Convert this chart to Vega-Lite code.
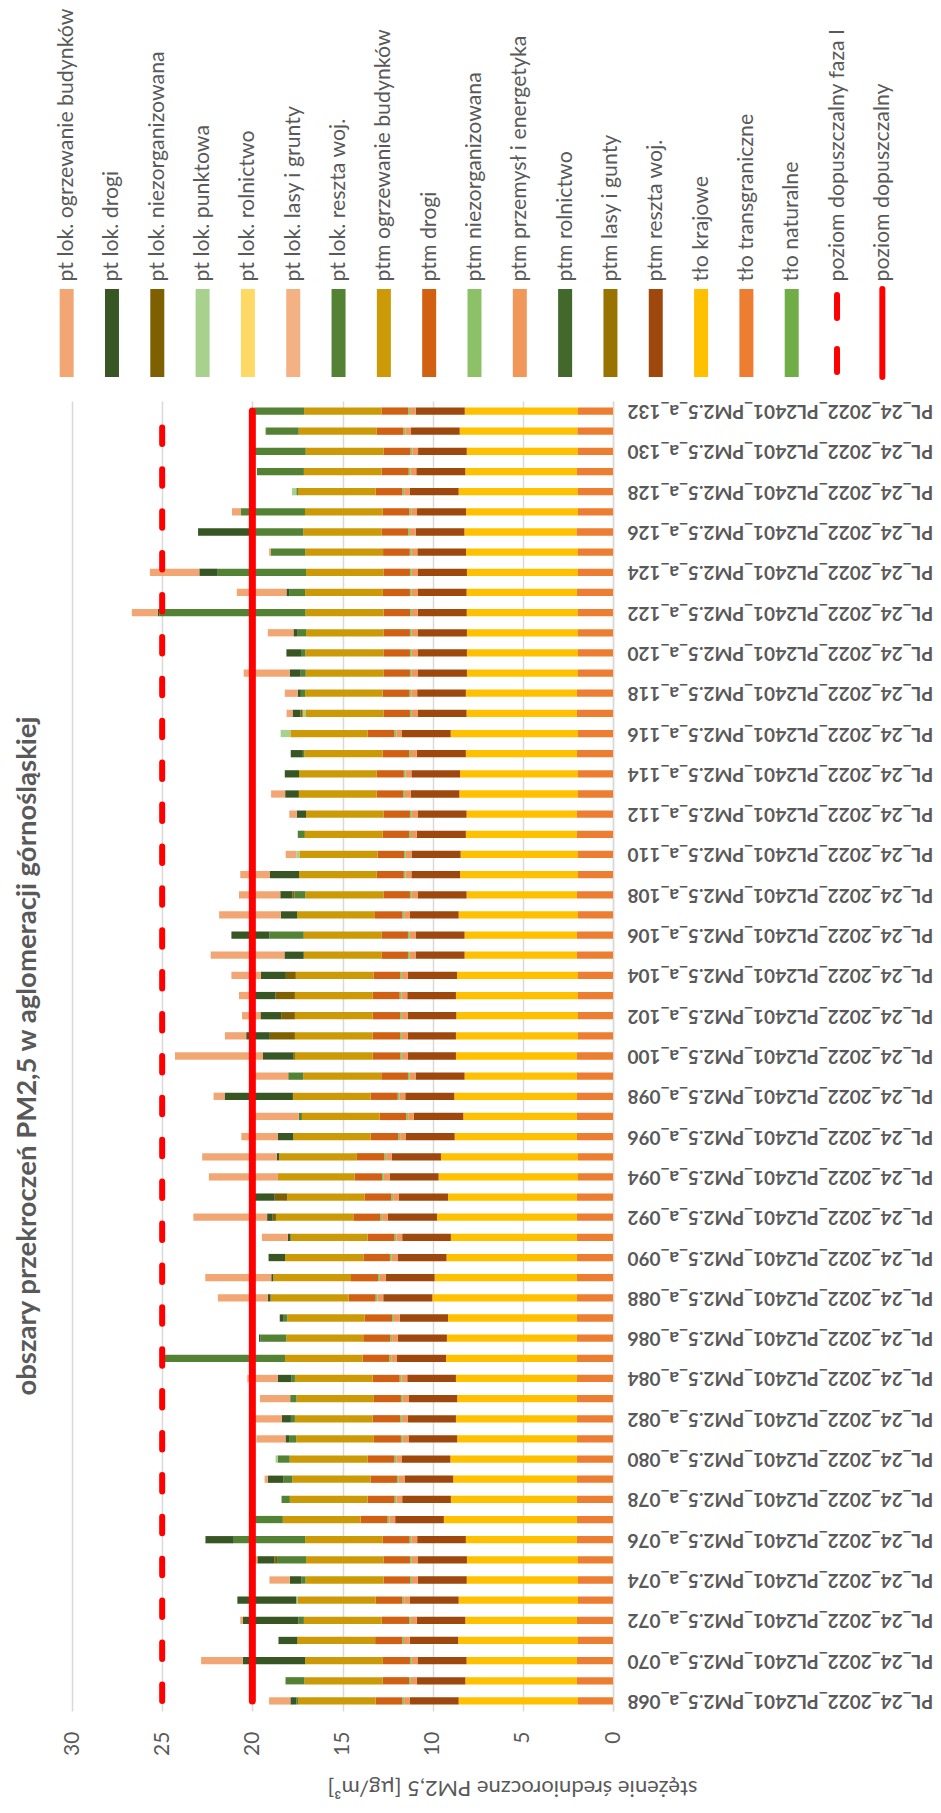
{
  "$schema": "https://vega.github.io/schema/vega-lite/v6.json",
  "padding": {"left": 13, "top": 7, "right": 0, "bottom": 5},
  "background": "white",
  "config": {"font": "Lato", "view": {"stroke": null}},
  "datasets": {
    "legenda": [
      {"key": "pt_ogrz", "nazwa": "pt lok. ogrzewanie budynków", "kol": 0},
      {"key": "pt_drogi", "nazwa": "pt lok. drogi", "kol": 1},
      {"key": "pt_niez", "nazwa": "pt lok. niezorganizowana", "kol": 2},
      {"key": "pt_punkt", "nazwa": "pt lok. punktowa", "kol": 3},
      {"key": "pt_roln", "nazwa": "pt lok. rolnictwo", "kol": 4},
      {"key": "pt_lasy", "nazwa": "pt lok. lasy i grunty", "kol": 5},
      {"key": "pt_reszta", "nazwa": "pt lok. reszta woj.", "kol": 6},
      {"key": "ptm_ogrz", "nazwa": "ptm ogrzewanie budynków", "kol": 7},
      {"key": "ptm_drogi", "nazwa": "ptm drogi", "kol": 8},
      {"key": "ptm_niez", "nazwa": "ptm niezorganizowana", "kol": 9},
      {"key": "ptm_przem", "nazwa": "ptm przemysł i energetyka", "kol": 10},
      {"key": "ptm_roln", "nazwa": "ptm rolnictwo", "kol": 11},
      {"key": "ptm_lasy", "nazwa": "ptm lasy i gunty", "kol": 12},
      {"key": "ptm_reszta", "nazwa": "ptm reszta woj.", "kol": 13},
      {"key": "tlo_kraj", "nazwa": "tło krajowe", "kol": 14},
      {"key": "tlo_trans", "nazwa": "tło transgraniczne", "kol": 15},
      {"key": "tlo_nat", "nazwa": "tło naturalne", "kol": 16},
      {"key": "poz1", "nazwa": "poziom dopuszczalny faza I", "kol": 17},
      {"key": "poz", "nazwa": "poziom dopuszczalny", "kol": 18}
    ],
    "obszary": [
      {"kat": "PL_24_2022_PL2401_PM2.5_a_132", "tlo_trans": 1.94, "tlo_kraj": 6.28, "ptm_reszta": 2.72, "ptm_przem": 0.32, "ptm_niez": 0.1, "ptm_drogi": 1.48, "ptm_ogrz": 4.29, "pt_reszta": 2.77, "poz": 20, "poz1": 25},
      {"kat": "PL_24_2022_PL2401_PM2.5_a_131", "tlo_trans": 1.98, "tlo_kraj": 6.52, "ptm_reszta": 2.70, "ptm_przem": 0.32, "ptm_niez": 0.1, "ptm_drogi": 1.48, "ptm_ogrz": 4.33, "pt_reszta": 1.81, "pt_punkt": 0.05, "poz": 20, "poz1": 25},
      {"kat": "PL_24_2022_PL2401_PM2.5_a_130", "tlo_trans": 1.94, "tlo_kraj": 6.17, "ptm_reszta": 2.70, "ptm_przem": 0.32, "ptm_niez": 0.1, "ptm_drogi": 1.48, "ptm_ogrz": 4.33, "pt_reszta": 2.83, "poz": 20, "poz1": 25},
      {"kat": "PL_24_2022_PL2401_PM2.5_a_129", "tlo_trans": 2.00, "tlo_kraj": 6.19, "ptm_reszta": 2.72, "ptm_przem": 0.32, "ptm_niez": 0.1, "ptm_drogi": 1.50, "ptm_ogrz": 4.31, "pt_reszta": 2.61, "poz": 20, "poz1": 25},
      {"kat": "PL_24_2022_PL2401_PM2.5_a_128", "tlo_trans": 1.94, "tlo_kraj": 6.62, "ptm_reszta": 2.70, "ptm_przem": 0.32, "ptm_niez": 0.1, "ptm_drogi": 1.48, "ptm_ogrz": 4.31, "pt_reszta": 0.09, "pt_punkt": 0.24, "poz": 20, "poz1": 25},
      {"kat": "PL_24_2022_PL2401_PM2.5_a_127", "tlo_trans": 1.94, "tlo_kraj": 6.21, "ptm_reszta": 2.72, "ptm_przem": 0.32, "ptm_niez": 0.1, "ptm_drogi": 1.48, "ptm_ogrz": 4.31, "pt_reszta": 3.55, "pt_ogrz": 0.50, "poz": 20, "poz1": 25},
      {"kat": "PL_24_2022_PL2401_PM2.5_a_126", "tlo_trans": 2.03, "tlo_kraj": 6.21, "ptm_reszta": 2.70, "ptm_przem": 0.32, "ptm_niez": 0.1, "ptm_drogi": 1.48, "ptm_ogrz": 4.33, "pt_reszta": 2.66, "pt_drogi": 3.18, "poz": 20, "poz1": 25},
      {"kat": "PL_24_2022_PL2401_PM2.5_a_125", "tlo_trans": 1.94, "tlo_kraj": 6.21, "ptm_reszta": 2.70, "ptm_przem": 0.32, "ptm_niez": 0.1, "ptm_drogi": 1.48, "ptm_ogrz": 4.31, "pt_reszta": 1.92, "pt_ogrz": 0.09, "poz": 20, "poz1": 25},
      {"kat": "PL_24_2022_PL2401_PM2.5_a_124", "tlo_trans": 1.94, "tlo_kraj": 6.16, "ptm_reszta": 2.74, "ptm_przem": 0.32, "ptm_niez": 0.1, "ptm_drogi": 1.47, "ptm_ogrz": 4.29, "pt_reszta": 4.90, "pt_drogi": 1.02, "pt_ogrz": 2.74, "poz": 20, "poz1": 25},
      {"kat": "PL_24_2022_PL2401_PM2.5_a_123", "tlo_trans": 2.00, "tlo_kraj": 6.12, "ptm_reszta": 2.72, "ptm_przem": 0.32, "ptm_niez": 0.1, "ptm_drogi": 1.50, "ptm_ogrz": 4.31, "pt_reszta": 0.89, "pt_drogi": 0.15, "pt_ogrz": 2.75, "poz": 20, "poz1": 25},
      {"kat": "PL_24_2022_PL2401_PM2.5_a_122", "tlo_trans": 1.94, "tlo_kraj": 6.17, "ptm_reszta": 2.72, "ptm_przem": 0.32, "ptm_niez": 0.1, "ptm_drogi": 1.47, "ptm_ogrz": 4.33, "pt_reszta": 8.10, "pt_drogi": 0.09, "pt_ogrz": 1.44, "poz": 20, "poz1": 25},
      {"kat": "PL_24_2022_PL2401_PM2.5_a_121", "tlo_trans": 1.94, "tlo_kraj": 6.16, "ptm_reszta": 2.74, "ptm_przem": 0.32, "ptm_niez": 0.1, "ptm_drogi": 1.47, "ptm_ogrz": 4.29, "pt_reszta": 0.50, "pt_drogi": 0.20, "pt_ogrz": 1.42, "poz": 20, "poz1": 25},
      {"kat": "PL_24_2022_PL2401_PM2.5_a_120", "tlo_trans": 1.94, "tlo_kraj": 6.16, "ptm_reszta": 2.74, "ptm_przem": 0.32, "ptm_niez": 0.1, "ptm_drogi": 1.47, "ptm_ogrz": 4.33, "pt_reszta": 0.24, "pt_drogi": 0.81, "poz": 20, "poz1": 25},
      {"kat": "PL_24_2022_PL2401_PM2.5_a_119", "tlo_trans": 1.94, "tlo_kraj": 6.16, "ptm_reszta": 2.74, "ptm_przem": 0.32, "ptm_niez": 0.1, "ptm_drogi": 1.47, "ptm_ogrz": 4.31, "pt_reszta": 0.28, "pt_drogi": 0.61, "pt_ogrz": 2.55, "poz": 20, "poz1": 25},
      {"kat": "PL_24_2022_PL2401_PM2.5_a_118", "tlo_trans": 2.00, "tlo_kraj": 6.16, "ptm_reszta": 2.70, "ptm_przem": 0.32, "ptm_niez": 0.1, "ptm_drogi": 1.50, "ptm_ogrz": 4.29, "pt_reszta": 0.24, "pt_drogi": 0.17, "pt_ogrz": 0.72, "poz": 20, "poz1": 25},
      {"kat": "PL_24_2022_PL2401_PM2.5_a_117", "tlo_trans": 2.00, "tlo_kraj": 6.12, "ptm_reszta": 2.72, "ptm_przem": 0.32, "ptm_niez": 0.1, "ptm_drogi": 1.47, "ptm_ogrz": 4.33, "pt_punkt": 0.15, "pt_niez": 0.13, "pt_drogi": 0.43, "pt_ogrz": 0.33, "poz": 20, "poz1": 25},
      {"kat": "PL_24_2022_PL2401_PM2.5_a_116", "tlo_trans": 1.94, "tlo_kraj": 7.06, "ptm_reszta": 2.70, "ptm_przem": 0.32, "ptm_niez": 0.1, "ptm_drogi": 1.48, "ptm_ogrz": 4.29, "pt_punkt": 0.54, "poz": 20, "poz1": 25},
      {"kat": "PL_24_2022_PL2401_PM2.5_a_115", "tlo_trans": 2.00, "tlo_kraj": 6.16, "ptm_reszta": 2.72, "ptm_przem": 0.32, "ptm_niez": 0.1, "ptm_drogi": 1.48, "ptm_ogrz": 4.33, "pt_reszta": 0.09, "pt_drogi": 0.67, "poz": 20, "poz1": 25},
      {"kat": "PL_24_2022_PL2401_PM2.5_a_114", "tlo_trans": 1.94, "tlo_kraj": 6.54, "ptm_reszta": 2.70, "ptm_przem": 0.32, "ptm_niez": 0.1, "ptm_drogi": 1.50, "ptm_ogrz": 4.31, "pt_drogi": 0.79, "poz": 20, "poz1": 25},
      {"kat": "PL_24_2022_PL2401_PM2.5_a_113", "tlo_trans": 1.94, "tlo_kraj": 6.58, "ptm_reszta": 2.70, "ptm_przem": 0.32, "ptm_niez": 0.1, "ptm_drogi": 1.47, "ptm_ogrz": 4.31, "pt_drogi": 0.76, "pt_ogrz": 0.78, "poz": 20, "poz1": 25},
      {"kat": "PL_24_2022_PL2401_PM2.5_a_112", "tlo_trans": 2.00, "tlo_kraj": 6.12, "ptm_reszta": 2.72, "ptm_przem": 0.32, "ptm_niez": 0.1, "ptm_drogi": 1.47, "ptm_ogrz": 4.29, "pt_drogi": 0.52, "pt_ogrz": 0.41, "poz": 20, "poz1": 25},
      {"kat": "PL_24_2022_PL2401_PM2.5_a_111", "tlo_trans": 2.00, "tlo_kraj": 6.16, "ptm_reszta": 2.72, "ptm_przem": 0.32, "ptm_niez": 0.1, "ptm_drogi": 1.48, "ptm_ogrz": 4.31, "pt_reszta": 0.39, "poz": 20, "poz1": 25},
      {"kat": "PL_24_2022_PL2401_PM2.5_a_110", "tlo_trans": 1.94, "tlo_kraj": 6.51, "ptm_reszta": 2.72, "ptm_przem": 0.32, "ptm_niez": 0.1, "ptm_drogi": 1.47, "ptm_ogrz": 4.33, "pt_punkt": 0.17, "pt_ogrz": 0.59, "poz": 20, "poz1": 25},
      {"kat": "PL_24_2022_PL2401_PM2.5_a_109", "tlo_trans": 1.94, "tlo_kraj": 6.54, "ptm_reszta": 2.70, "ptm_przem": 0.32, "ptm_niez": 0.1, "ptm_drogi": 1.50, "ptm_ogrz": 4.31, "pt_drogi": 1.61, "pt_ogrz": 1.65, "poz": 20, "poz1": 25},
      {"kat": "PL_24_2022_PL2401_PM2.5_a_108", "tlo_trans": 2.00, "tlo_kraj": 6.12, "ptm_reszta": 2.72, "ptm_przem": 0.32, "ptm_niez": 0.1, "ptm_drogi": 1.47, "ptm_ogrz": 4.33, "pt_reszta": 0.61, "pt_niez": 0.11, "pt_drogi": 0.67, "pt_ogrz": 2.29, "poz": 20, "poz1": 25},
      {"kat": "PL_24_2022_PL2401_PM2.5_a_107", "tlo_trans": 1.94, "tlo_kraj": 6.62, "ptm_reszta": 2.70, "ptm_przem": 0.32, "ptm_niez": 0.1, "ptm_drogi": 1.52, "ptm_ogrz": 4.31, "pt_drogi": 0.91, "pt_ogrz": 3.42, "poz": 20, "poz1": 25},
      {"kat": "PL_24_2022_PL2401_PM2.5_a_106", "tlo_trans": 2.00, "tlo_kraj": 6.23, "ptm_reszta": 2.72, "ptm_przem": 0.32, "ptm_niez": 0.1, "ptm_drogi": 1.47, "ptm_ogrz": 4.31, "pt_reszta": 1.90, "pt_drogi": 2.11, "poz": 20, "poz1": 25},
      {"kat": "PL_24_2022_PL2401_PM2.5_a_105", "tlo_trans": 2.00, "tlo_kraj": 6.23, "ptm_reszta": 2.72, "ptm_przem": 0.32, "ptm_niez": 0.1, "ptm_drogi": 1.47, "ptm_ogrz": 4.31, "pt_drogi": 1.07, "pt_ogrz": 4.09, "poz": 20, "poz1": 25},
      {"kat": "PL_24_2022_PL2401_PM2.5_a_104", "tlo_trans": 1.94, "tlo_kraj": 6.71, "ptm_reszta": 2.74, "ptm_przem": 0.32, "ptm_niez": 0.1, "ptm_drogi": 1.47, "ptm_ogrz": 4.31, "pt_niez": 0.55, "pt_drogi": 1.39, "pt_ogrz": 1.63, "poz": 20, "poz1": 25},
      {"kat": "PL_24_2022_PL2401_PM2.5_a_103", "tlo_trans": 1.94, "tlo_kraj": 6.77, "ptm_reszta": 2.70, "ptm_przem": 0.32, "ptm_niez": 0.1, "ptm_drogi": 1.50, "ptm_ogrz": 4.31, "pt_niez": 1.07, "pt_drogi": 1.16, "pt_ogrz": 0.87, "poz": 20, "poz1": 25},
      {"kat": "PL_24_2022_PL2401_PM2.5_a_102", "tlo_trans": 1.94, "tlo_kraj": 6.75, "ptm_reszta": 2.70, "ptm_przem": 0.32, "ptm_niez": 0.1, "ptm_drogi": 1.52, "ptm_ogrz": 4.31, "pt_niez": 0.76, "pt_drogi": 1.15, "pt_ogrz": 1.02, "poz": 20, "poz1": 25},
      {"kat": "PL_24_2022_PL2401_PM2.5_a_101", "tlo_trans": 1.94, "tlo_kraj": 6.77, "ptm_reszta": 2.68, "ptm_przem": 0.32, "ptm_niez": 0.1, "ptm_drogi": 1.52, "ptm_ogrz": 4.31, "pt_niez": 1.39, "pt_drogi": 1.31, "pt_ogrz": 1.18, "poz": 20, "poz1": 25},
      {"kat": "PL_24_2022_PL2401_PM2.5_a_100", "tlo_trans": 2.00, "tlo_kraj": 6.71, "ptm_reszta": 2.68, "ptm_przem": 0.32, "ptm_niez": 0.1, "ptm_drogi": 1.52, "ptm_ogrz": 4.31, "pt_niez": 0.09, "pt_drogi": 1.68, "pt_ogrz": 4.88, "poz": 20, "poz1": 25},
      {"kat": "PL_24_2022_PL2401_PM2.5_a_099", "tlo_trans": 2.00, "tlo_kraj": 6.23, "ptm_reszta": 2.72, "ptm_przem": 0.32, "ptm_niez": 0.1, "ptm_drogi": 1.48, "ptm_ogrz": 4.33, "pt_reszta": 0.83, "pt_ogrz": 1.96, "poz": 20, "poz1": 25},
      {"kat": "PL_24_2022_PL2401_PM2.5_a_098", "tlo_trans": 2.00, "tlo_kraj": 6.80, "ptm_reszta": 2.72, "ptm_przem": 0.32, "ptm_niez": 0.1, "ptm_drogi": 1.50, "ptm_ogrz": 4.31, "pt_drogi": 3.79, "pt_ogrz": 0.61, "poz": 20, "poz1": 25},
      {"kat": "PL_24_2022_PL2401_PM2.5_a_097", "tlo_trans": 2.00, "tlo_kraj": 6.30, "ptm_reszta": 2.74, "ptm_przem": 0.32, "ptm_niez": 0.1, "ptm_drogi": 1.48, "ptm_ogrz": 4.31, "pt_reszta": 0.17, "pt_ogrz": 2.55, "poz": 20, "poz1": 25},
      {"kat": "PL_24_2022_PL2401_PM2.5_a_096", "tlo_trans": 2.00, "tlo_kraj": 6.78, "ptm_reszta": 2.70, "ptm_przem": 0.32, "ptm_niez": 0.1, "ptm_drogi": 1.54, "ptm_ogrz": 4.29, "pt_drogi": 0.85, "pt_ogrz": 2.03, "poz": 20, "poz1": 25},
      {"kat": "PL_24_2022_PL2401_PM2.5_a_095", "tlo_trans": 1.94, "tlo_kraj": 7.60, "ptm_reszta": 2.72, "ptm_przem": 0.32, "ptm_niez": 0.1, "ptm_drogi": 1.52, "ptm_ogrz": 4.31, "pt_drogi": 0.13, "pt_ogrz": 4.14, "poz": 20, "poz1": 25},
      {"kat": "PL_24_2022_PL2401_PM2.5_a_094", "tlo_trans": 1.94, "tlo_kraj": 7.73, "ptm_reszta": 2.72, "ptm_przem": 0.32, "ptm_niez": 0.1, "ptm_drogi": 1.52, "ptm_ogrz": 4.25, "pt_ogrz": 3.83, "poz": 20, "poz1": 25},
      {"kat": "PL_24_2022_PL2401_PM2.5_a_093", "tlo_trans": 2.00, "tlo_kraj": 7.15, "ptm_reszta": 2.72, "ptm_przem": 0.32, "ptm_niez": 0.1, "ptm_drogi": 1.48, "ptm_ogrz": 4.29, "pt_niez": 0.70, "pt_drogi": 1.11, "poz": 20, "poz1": 25},
      {"kat": "PL_24_2022_PL2401_PM2.5_a_092", "tlo_trans": 2.00, "tlo_kraj": 7.76, "ptm_reszta": 2.72, "ptm_przem": 0.32, "ptm_niez": 0.1, "ptm_drogi": 1.50, "ptm_ogrz": 4.29, "pt_niez": 0.18, "pt_drogi": 0.31, "pt_ogrz": 4.09, "poz": 20, "poz1": 25},
      {"kat": "PL_24_2022_PL2401_PM2.5_a_091", "tlo_trans": 2.00, "tlo_kraj": 6.99, "ptm_reszta": 2.70, "ptm_przem": 0.32, "ptm_niez": 0.1, "ptm_drogi": 1.50, "ptm_ogrz": 4.27, "pt_drogi": 0.15, "pt_ogrz": 1.44, "poz": 20, "poz1": 25},
      {"kat": "PL_24_2022_PL2401_PM2.5_a_090", "tlo_trans": 2.00, "tlo_kraj": 7.23, "ptm_reszta": 2.72, "ptm_przem": 0.32, "ptm_niez": 0.1, "ptm_drogi": 1.47, "ptm_ogrz": 4.34, "pt_drogi": 0.92, "poz": 20, "poz1": 25},
      {"kat": "PL_24_2022_PL2401_PM2.5_a_089", "tlo_trans": 2.00, "tlo_kraj": 7.89, "ptm_reszta": 2.72, "ptm_przem": 0.32, "ptm_niez": 0.1, "ptm_drogi": 1.50, "ptm_ogrz": 4.31, "pt_drogi": 0.11, "pt_ogrz": 3.66, "poz": 20, "poz1": 25},
      {"kat": "PL_24_2022_PL2401_PM2.5_a_088", "tlo_trans": 2.00, "tlo_kraj": 8.02, "ptm_reszta": 2.72, "ptm_przem": 0.32, "ptm_niez": 0.1, "ptm_drogi": 1.50, "ptm_ogrz": 4.33, "pt_drogi": 0.15, "pt_ogrz": 2.77, "poz": 20, "poz1": 25},
      {"kat": "PL_24_2022_PL2401_PM2.5_a_087", "tlo_trans": 2.00, "tlo_kraj": 7.15, "ptm_reszta": 2.68, "ptm_przem": 0.32, "ptm_niez": 0.1, "ptm_drogi": 1.52, "ptm_ogrz": 4.29, "pt_reszta": 0.20, "pt_drogi": 0.22, "poz": 20, "poz1": 25},
      {"kat": "PL_24_2022_PL2401_PM2.5_a_086", "tlo_trans": 2.00, "tlo_kraj": 7.21, "ptm_reszta": 2.72, "ptm_przem": 0.32, "ptm_niez": 0.1, "ptm_drogi": 1.50, "ptm_ogrz": 4.27, "pt_reszta": 1.44, "pt_drogi": 0.07, "poz": 20, "poz1": 25},
      {"kat": "PL_24_2022_PL2401_PM2.5_a_085", "tlo_trans": 2.00, "tlo_kraj": 7.26, "ptm_reszta": 2.72, "ptm_przem": 0.32, "ptm_niez": 0.1, "ptm_drogi": 1.48, "ptm_ogrz": 4.31, "pt_reszta": 6.67, "poz": 20, "poz1": 25},
      {"kat": "PL_24_2022_PL2401_PM2.5_a_084", "tlo_trans": 2.00, "tlo_kraj": 6.71, "ptm_reszta": 2.70, "ptm_przem": 0.32, "ptm_niez": 0.1, "ptm_drogi": 1.50, "ptm_ogrz": 4.31, "pt_reszta": 0.20, "pt_drogi": 0.74, "pt_ogrz": 1.70, "poz": 20, "poz1": 25},
      {"kat": "PL_24_2022_PL2401_PM2.5_a_083", "tlo_trans": 2.00, "tlo_kraj": 6.64, "ptm_reszta": 2.70, "ptm_przem": 0.32, "ptm_niez": 0.1, "ptm_drogi": 1.50, "ptm_ogrz": 4.29, "pt_reszta": 0.35, "pt_ogrz": 1.68, "poz": 20, "poz1": 25},
      {"kat": "PL_24_2022_PL2401_PM2.5_a_082", "tlo_trans": 2.00, "tlo_kraj": 6.71, "ptm_reszta": 2.68, "ptm_przem": 0.32, "ptm_niez": 0.1, "ptm_drogi": 1.52, "ptm_ogrz": 4.31, "pt_reszta": 0.22, "pt_drogi": 0.50, "pt_ogrz": 1.52, "poz": 20, "poz1": 25},
      {"kat": "PL_24_2022_PL2401_PM2.5_a_081", "tlo_trans": 2.00, "tlo_kraj": 6.64, "ptm_reszta": 2.70, "ptm_przem": 0.32, "ptm_niez": 0.1, "ptm_drogi": 1.50, "ptm_ogrz": 4.31, "pt_reszta": 0.39, "pt_drogi": 0.20, "pt_ogrz": 1.61, "poz": 20, "poz1": 25},
      {"kat": "PL_24_2022_PL2401_PM2.5_a_080", "tlo_trans": 2.00, "tlo_kraj": 7.02, "ptm_reszta": 2.68, "ptm_przem": 0.32, "ptm_niez": 0.1, "ptm_drogi": 1.48, "ptm_ogrz": 4.33, "pt_reszta": 0.65, "pt_punkt": 0.13, "poz": 20, "poz1": 25},
      {"kat": "PL_24_2022_PL2401_PM2.5_a_079", "tlo_trans": 2.00, "tlo_kraj": 6.86, "ptm_reszta": 2.70, "ptm_przem": 0.32, "ptm_niez": 0.1, "ptm_drogi": 1.47, "ptm_ogrz": 4.34, "pt_reszta": 0.50, "pt_drogi": 0.85, "pt_ogrz": 0.18, "poz": 20, "poz1": 25},
      {"kat": "PL_24_2022_PL2401_PM2.5_a_078", "tlo_trans": 2.00, "tlo_kraj": 6.99, "ptm_reszta": 2.70, "ptm_przem": 0.32, "ptm_niez": 0.1, "ptm_drogi": 1.50, "ptm_ogrz": 4.31, "pt_reszta": 0.46, "poz": 20, "poz1": 25},
      {"kat": "PL_24_2022_PL2401_PM2.5_a_077", "tlo_trans": 2.00, "tlo_kraj": 7.38, "ptm_reszta": 2.70, "ptm_przem": 0.32, "ptm_niez": 0.1, "ptm_drogi": 1.50, "ptm_ogrz": 4.31, "pt_reszta": 1.57, "poz": 20, "poz1": 25},
      {"kat": "PL_24_2022_PL2401_PM2.5_a_076", "tlo_trans": 2.00, "tlo_kraj": 6.16, "ptm_reszta": 2.70, "ptm_przem": 0.32, "ptm_niez": 0.1, "ptm_drogi": 1.50, "ptm_ogrz": 4.29, "pt_reszta": 3.96, "pt_drogi": 1.57, "poz": 20, "poz1": 25},
      {"kat": "PL_24_2022_PL2401_PM2.5_a_075", "tlo_trans": 1.94, "tlo_kraj": 6.16, "ptm_reszta": 2.74, "ptm_przem": 0.32, "ptm_niez": 0.1, "ptm_drogi": 1.47, "ptm_ogrz": 4.29, "pt_reszta": 1.61, "pt_niez": 0.15, "pt_drogi": 0.94, "pt_ogrz": 0.13, "poz": 20, "poz1": 25},
      {"kat": "PL_24_2022_PL2401_PM2.5_a_074", "tlo_trans": 1.94, "tlo_kraj": 6.17, "ptm_reszta": 2.72, "ptm_przem": 0.32, "ptm_niez": 0.1, "ptm_drogi": 1.47, "ptm_ogrz": 4.33, "pt_reszta": 0.24, "pt_drogi": 0.63, "pt_ogrz": 1.13, "poz": 20, "poz1": 25},
      {"kat": "PL_24_2022_PL2401_PM2.5_a_073", "tlo_trans": 1.94, "tlo_kraj": 6.62, "ptm_reszta": 2.70, "ptm_przem": 0.32, "ptm_niez": 0.1, "ptm_drogi": 1.48, "ptm_ogrz": 4.31, "pt_punkt": 0.09, "pt_drogi": 3.27, "poz": 20, "poz1": 25},
      {"kat": "PL_24_2022_PL2401_PM2.5_a_072", "tlo_trans": 2.00, "tlo_kraj": 6.19, "ptm_reszta": 2.70, "ptm_przem": 0.32, "ptm_niez": 0.1, "ptm_drogi": 1.52, "ptm_ogrz": 4.31, "pt_reszta": 0.31, "pt_drogi": 3.07, "pt_ogrz": 0.15, "poz": 20, "poz1": 25},
      {"kat": "PL_24_2022_PL2401_PM2.5_a_071", "tlo_trans": 1.94, "tlo_kraj": 6.65, "ptm_reszta": 2.68, "ptm_przem": 0.32, "ptm_niez": 0.1, "ptm_drogi": 1.50, "ptm_ogrz": 4.31, "pt_drogi": 1.05, "poz": 20, "poz1": 25},
      {"kat": "PL_24_2022_PL2401_PM2.5_a_070", "tlo_trans": 2.00, "tlo_kraj": 6.12, "ptm_reszta": 2.72, "ptm_przem": 0.32, "ptm_niez": 0.1, "ptm_drogi": 1.50, "ptm_ogrz": 4.31, "pt_drogi": 3.46, "pt_ogrz": 2.31, "poz": 20, "poz1": 25},
      {"kat": "PL_24_2022_PL2401_PM2.5_a_069", "tlo_trans": 2.00, "tlo_kraj": 6.19, "ptm_reszta": 2.70, "ptm_przem": 0.32, "ptm_niez": 0.1, "ptm_drogi": 1.47, "ptm_ogrz": 4.33, "pt_reszta": 1.05, "poz": 20, "poz1": 25},
      {"kat": "PL_24_2022_PL2401_PM2.5_a_068", "tlo_trans": 1.94, "tlo_kraj": 6.62, "ptm_reszta": 2.70, "ptm_przem": 0.32, "ptm_niez": 0.1, "ptm_drogi": 1.48, "ptm_ogrz": 4.31, "pt_reszta": 0.09, "pt_drogi": 0.33, "pt_ogrz": 1.18, "poz": 20, "poz1": 25}
    ]
  },
  "bounds": "flush",
  "spacing": 24,
  "vconcat": [
    {
      "width": 833,
      "height": 88,
      "data": {"name": "legenda"},
      "encoding": {
        "x": {
          "field": "nazwa", "type": "nominal",
          "scale": {"type": "point", "range": [-28, 833], "domain": ["pt lok. ogrzewanie budynków", "pt lok. drogi", "pt lok. niezorganizowana", "pt lok. punktowa", "pt lok. rolnictwo", "pt lok. lasy i grunty", "pt lok. reszta woj.", "ptm ogrzewanie budynków", "ptm drogi", "ptm niezorganizowana", "ptm przemysł i energetyka", "ptm rolnictwo", "ptm lasy i gunty", "ptm reszta woj.", "tło krajowe", "tło transgraniczne", "tło naturalne", "poziom dopuszczalny faza I", "poziom dopuszczalny"]},
          "axis": {"orient": "top", "title": null, "labelAngle": -90, "labelAlign": "left", "labelBaseline": "middle", "labelPadding": 8, "labelFontSize": 21.3, "labelColor": "#595959", "labelLimit": 500, "ticks": false, "domain": false, "grid": false, "labelOverlap": false}
        }
      },
      "layer": [
        {
          "transform": [{"filter": "datum.kol < 17"}],
          "mark": {"type": "rule", "strokeWidth": 14, "strokeCap": "butt"},
          "encoding": {
            "color": {"field": "nazwa", "type": "nominal", "legend": null,
              "scale": {"domain": ["pt lok. ogrzewanie budynków", "pt lok. drogi", "pt lok. niezorganizowana", "pt lok. punktowa", "pt lok. rolnictwo", "pt lok. lasy i grunty", "pt lok. reszta woj.", "ptm ogrzewanie budynków", "ptm drogi", "ptm niezorganizowana", "ptm przemysł i energetyka", "ptm rolnictwo", "ptm lasy i gunty", "ptm reszta woj.", "tło krajowe", "tło transgraniczne", "tło naturalne", "poziom dopuszczalny faza I", "poziom dopuszczalny"],
                "range": ["#F2A673", "#375623", "#7F6000", "#A9D18E", "#FFD966", "#F4B183", "#548235", "#CC9A06", "#D26013", "#8CC168", "#F1975A", "#43682B", "#997300", "#9E480E", "#FFC000", "#ED7D31", "#70AD47", "#FF0000", "#FF0000"]}}
          }
        },
        {
          "transform": [{"filter": "datum.kol == 17"}],
          "mark": {"type": "rule", "color": "#FF0000", "strokeWidth": 6, "strokeCap": "round", "strokeDash": [23, 31], "strokeDashOffset": 48},
          "encoding": {}
        },
        {
          "transform": [{"filter": "datum.kol == 18"}],
          "mark": {"type": "rule", "color": "#FF0000", "strokeWidth": 6, "strokeCap": "round"},
          "encoding": {}
        }
      ]
    },
    {
      "width": 541,
      "height": 1310,
      "title": {"text": "obszary przekroczeń PM2,5 w aglomeracji górnośląskiej", "orient": "left", "anchor": "middle", "frame": "group", "fontSize": 27.5, "fontWeight": "bold", "color": "#595959", "offset": 20},
      "data": {"name": "obszary"},
      "transform": [
        {"fold": ["tlo_nat", "tlo_trans", "tlo_kraj", "ptm_reszta", "ptm_lasy", "ptm_roln", "ptm_przem", "ptm_niez", "ptm_drogi", "ptm_ogrz", "pt_reszta", "pt_lasy", "pt_roln", "pt_punkt", "pt_niez", "pt_drogi", "pt_ogrz", "poz", "poz1"], "as": ["key", "v"]},
        {"filter": "isValid(datum.v)"},
        {"lookup": "key", "from": {"data": {"name": "legenda"}, "key": "key", "fields": ["nazwa", "kol"]}}
      ],
      "encoding": {
        "y": {
          "field": "kat", "type": "nominal",
          "scale": {"reverse": true, "paddingInner": 0.64, "paddingOuter": 0.32},
          "axis": {"orient": "right", "title": null, "labelAngle": 180, "labelAlign": "right", "labelBaseline": "middle", "labelPadding": 14, "labelFontSize": 19, "labelFontWeight": "bold", "labelColor": "#595959", "labelLimit": 500, "ticks": false, "domain": true, "domainColor": "#D9D9D9", "domainWidth": 1.5, "grid": false, "labelOverlap": false,
            "labelExpr": "toNumber(slice(datum.label, -1)) % 2 === 0 ? datum.label : ''"}
        },
        "x": {
          "field": "v", "type": "quantitative",
          "scale": {"domain": [0, 30], "reverse": true, "nice": false},
          "axis": {"orient": "bottom", "values": [0, 5, 10, 15, 20, 25, 30], "labelAngle": -90, "labelAlign": "right", "labelBaseline": "middle", "labelPadding": 20, "labelFontSize": 21, "labelColor": "#595959", "grid": true, "gridColor": "#D9D9D9", "gridWidth": 1.5, "domain": false, "ticks": false,
            "title": "stężenie średnioroczne PM2,5 [µg/m³]", "titleAngle": 180, "titleBaseline": "bottom", "titleFontSize": 22, "titleFontWeight": "normal", "titleColor": "#595959", "titleX": 440, "titlePadding": 20}
        }
      },
      "layer": [
        {
          "transform": [{"filter": "datum.kol < 17"}],
          "mark": {"type": "bar"},
          "encoding": {
            "color": {"field": "nazwa", "type": "nominal", "legend": null,
              "scale": {"domain": ["pt lok. ogrzewanie budynków", "pt lok. drogi", "pt lok. niezorganizowana", "pt lok. punktowa", "pt lok. rolnictwo", "pt lok. lasy i grunty", "pt lok. reszta woj.", "ptm ogrzewanie budynków", "ptm drogi", "ptm niezorganizowana", "ptm przemysł i energetyka", "ptm rolnictwo", "ptm lasy i gunty", "ptm reszta woj.", "tło krajowe", "tło transgraniczne", "tło naturalne", "poziom dopuszczalny faza I", "poziom dopuszczalny"],
                "range": ["#F2A673", "#375623", "#7F6000", "#A9D18E", "#FFD966", "#F4B183", "#548235", "#CC9A06", "#D26013", "#8CC168", "#F1975A", "#43682B", "#997300", "#9E480E", "#FFC000", "#ED7D31", "#70AD47", "#FF0000", "#FF0000"]}},
            "order": {"field": "kol", "type": "quantitative", "sort": "descending"}
          }
        },
        {
          "transform": [{"filter": "datum.key === 'poz1'"}],
          "mark": {"type": "line", "color": "#FF0000", "strokeWidth": 6, "strokeCap": "round", "strokeDash": [16.5, 25.4]},
          "encoding": {"order": {"field": "kat", "type": "ordinal", "sort": "ascending"}}
        },
        {
          "transform": [{"filter": "datum.key === 'poz'"}],
          "mark": {"type": "line", "color": "#FF0000", "strokeWidth": 7, "strokeCap": "round"},
          "encoding": {"order": {"field": "kat", "type": "ordinal", "sort": "ascending"}}
        }
      ]
    }
  ]
}
